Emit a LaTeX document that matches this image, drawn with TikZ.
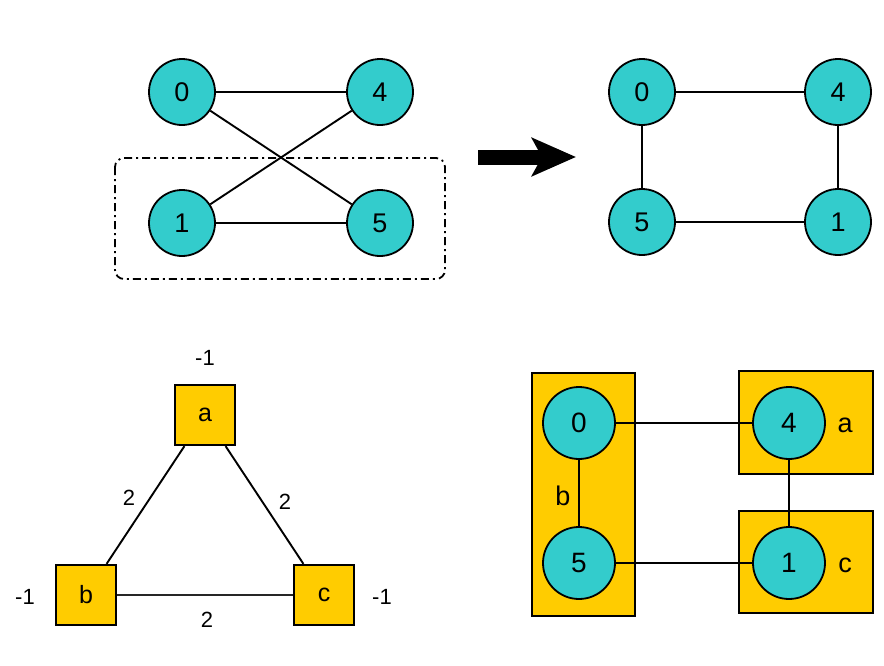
\documentclass[tikz,border=0pt]{standalone}
\usepackage{fontspec}
\setmainfont{Liberation Sans}
\usetikzlibrary{arrows.meta}
\definecolor{vtx}{HTML}{33CCCC}
\definecolor{grp}{HTML}{FFCC00}
\begin{document}
\begin{tikzpicture}[x=1pt,y=-1pt,
  vertex/.style={circle,draw=black,line width=1.8pt,fill=vtx,minimum size=66pt,inner sep=0pt,font=\fontsize{27}{27}\selectfont},
  bigvertex/.style={vertex,minimum size=72pt,font=\fontsize{28}{28}\selectfont},
  sqnode/.style={rectangle,draw=black,line width=2.2pt,fill=grp,minimum size=60pt,inner sep=0pt,font=\fontsize{25}{25}\selectfont},
  grpbox/.style={draw=black,line width=1.8pt,fill=grp},
  edge/.style={line width=1.9pt},
  lbl/.style={inner sep=0pt,font=\fontsize{22}{22}\selectfont},
  biglbl/.style={inner sep=0pt,font=\fontsize{27}{27}\selectfont}]
\useasboundingbox (0,0) rectangle (884,665);

% --- original graph with the selected pair ---
\draw[line width=1.8pt,rounded corners=9pt,dash pattern=on 8pt off 4pt on 2pt off 4pt]
  (115,158) rectangle (445,279);
\node[vertex] (l0) at (182,92) {0};
\node[vertex] (l4) at (380,92) {4};
\node[vertex] (l1) at (182,223) {1};
\node[vertex] (l5) at (380,223) {5};
\draw[edge] (l0) -- (l4);
\draw[edge] (l0) -- (l5);
\draw[edge] (l1) -- (l4);
\draw[edge] (l1) -- (l5);

% --- transformation arrow ---
\coordinate (as) at (478,157);
\coordinate (ae) at (576,157);
\draw[line width=15pt,-{Stealth[length=44pt,width=38pt,inset=10pt]}] (as) -- (ae);

% --- rearranged graph ---
\node[vertex] (r0) at (642,92) {0};
\node[vertex] (r4) at (838,92) {4};
\node[vertex] (r5) at (642,222) {5};
\node[vertex] (r1) at (838,222) {1};
\draw[edge] (r0) -- (r4);
\draw[edge] (r4) -- (r1);
\draw[edge] (r1) -- (r5);
\draw[edge] (r5) -- (r0);

% --- weighted group graph ---
\node[sqnode] (ga) at (205,415) {a};
\node[sqnode] (gb) at (86,595) {b};
\node[sqnode] (gc) at (324,595) {c};
\draw[edge] (ga) -- (gb);
\draw[edge] (ga) -- (gc);
\draw[line width=1.6pt,black!85] (gb) -- (gc);
\node[lbl] (wa) at (205,358) {-1};
\node[lbl] (wb) at (25,597) {-1};
\node[lbl] (wc) at (382,597) {-1};
\node[lbl] (eab) at (129,498) {2};
\node[lbl] (eac) at (285,502) {2};
\node[lbl] (ebc) at (207,620) {2};

% --- vertices grouped into a, b, c ---
\draw[grpbox] (532,373) rectangle (635,616);
\draw[grpbox] (739,371) rectangle (873,474);
\draw[grpbox] (739,511) rectangle (873,613);
\node[bigvertex] (g0) at (579,423) {0};
\node[bigvertex] (g5) at (579,563) {5};
\node[bigvertex] (g4) at (789,423) {4};
\node[bigvertex] (g1) at (789,563) {1};
\draw[edge] (g0) -- (g4);
\draw[edge] (g5) -- (g1);
\draw[edge] (g0) -- (g5);
\draw[edge] (g4) -- (g1);
\node[biglbl] (la) at (845,425) {a};
\node[biglbl] (lb) at (563,496) {b};
\node[biglbl] (lc) at (845,565) {c};
\end{tikzpicture}
\end{document}
